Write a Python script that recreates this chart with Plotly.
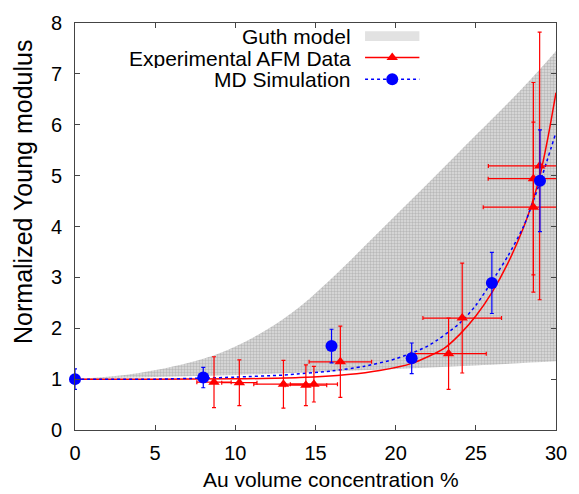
import plotly.graph_objects as go

# ---- data ----
guth_upper_x = [0, 4, 8, 10, 12, 14, 16, 20, 24, 28, 30]
guth_upper_y = [1.0, 1.12, 1.4, 1.64, 1.98, 2.42, 2.98, 4.22, 5.48, 6.75, 7.45]
guth_lower_x = [0, 5, 10, 15, 20, 25, 30]
guth_lower_y = [1.0, 1.04, 1.08, 1.14, 1.2, 1.27, 1.35]

afm_x = [8.67, 10.25, 13.0, 14.4, 14.9, 16.55, 23.3, 24.15, 28.59, 28.59, 28.98]
afm_y = [0.94, 0.93, 0.90, 0.88, 0.90, 1.34, 1.50, 2.20, 4.38, 4.94, 5.19]
afm_yerr = [0.5, 0.45, 0.47, 0.4, 0.35, 0.7, 0.7, 1.08, 1.67, 1.89, 2.63]
afm_xerr = [1.07, 1.1, 1.85, 1.3, 1.47, 1.95, 2.35, 2.45, 3.13, 2.82, 3.2]

md_x = [0, 8.0, 16.0, 21.0, 26.0, 29.0]
md_y = [1.0, 1.03, 1.65, 1.41, 2.89, 4.9]
md_yerr = [0.2, 0.2, 0.33, 0.3, 0.6, 1.0]

afm_fit_x = [0, 5, 10, 14, 17, 19, 21, 23, 24, 25, 26, 27, 28, 28.5, 29, 29.5, 30]
afm_fit_y = [1.0, 1.0, 1.005, 1.03, 1.09, 1.17, 1.31, 1.6, 1.88, 2.24, 2.7, 3.28, 4.0, 4.45, 5.0, 5.75, 6.63]

md_fit_x = [0, 5, 8, 10, 13, 16, 18, 20, 22, 24, 25, 26, 27, 28, 29, 30]
md_fit_y = [1.0, 1.0, 1.02, 1.04, 1.08, 1.16, 1.25, 1.4, 1.65, 2.1, 2.45, 2.92, 3.42, 4.02, 4.87, 5.85]

x_ticks = [0, 5, 10, 15, 20, 25, 30]
y_ticks = [0, 1, 2, 3, 4, 5, 6, 7, 8]

legend_labels = ["Guth model", "Experimental AFM Data", "MD Simulation"]
x_title = "Au volume concentration %"
y_title = "Normalized Young modulus"

RED = "#ff0000"
BLUE = "#0000ff"
FONT = "Liberation Sans, Arial, sans-serif"

fig = go.Figure()

# Guth band: lower edge (invisible) then upper edge filled down to it
fig.add_trace(go.Scatter(
    x=guth_lower_x, y=guth_lower_y, mode="lines",
    line=dict(width=0, color="rgba(0,0,0,0)", shape="spline"),
    showlegend=False, hoverinfo="skip"))
fig.add_trace(go.Scatter(
    x=guth_upper_x, y=guth_upper_y, mode="lines", fill="tonexty",
    line=dict(width=0, color="rgba(0,0,0,0)", shape="spline", smoothing=1.0),
    fillcolor="rgba(0,0,0,0)",
    fillpattern=dict(shape=".", fgcolor="#939393", bgcolor="#dedede", size=3, solidity=0.5),
    showlegend=False, hoverinfo="skip"))

# fit curves
fig.add_trace(go.Scatter(x=afm_fit_x, y=afm_fit_y, mode="lines",
                         line=dict(color=RED, width=1.5, shape="spline", smoothing=0.7),
                         showlegend=False))
fig.add_trace(go.Scatter(x=md_fit_x, y=md_fit_y, mode="lines",
                         line=dict(color=BLUE, width=1.5, dash="dot", shape="spline", smoothing=0.7),
                         showlegend=False))

# data points
fig.add_trace(go.Scatter(
    x=afm_x, y=afm_y, mode="markers",
    marker=dict(symbol="triangle-up", size=10, color=RED),
    error_y=dict(type="data", array=afm_yerr, color=RED, thickness=1.2, width=2),
    error_x=dict(type="data", array=afm_xerr, color=RED, thickness=1.2, width=2),
    showlegend=False))
fig.add_trace(go.Scatter(
    x=md_x, y=md_y, mode="markers", cliponaxis=False,
    marker=dict(symbol="circle", size=12, color=BLUE),
    error_y=dict(type="data", array=md_yerr, color=BLUE, thickness=1.2, width=2),
    showlegend=False))

# ---- custom legend (gnuplot style: text then sample on the right) ----
row_y = [0.968, 0.915, 0.862]
text_x = 0.577
sw_x0, sw_x1 = 0.603, 0.716
sw_xc = (sw_x0 + sw_x1) / 2
for lab, yy in zip(legend_labels, row_y):
    fig.add_annotation(x=text_x, y=yy, xref="paper", yref="paper", text=lab,
                       showarrow=False, xanchor="right", yanchor="middle", height=20,
                       font=dict(family=FONT, size=21, color="black"))
fig.add_shape(type="rect", xref="paper", yref="paper", x0=sw_x0, x1=sw_x1,
              y0=row_y[0] - 0.012, y1=row_y[0] + 0.012,
              fillcolor="#e2e2e2", line=dict(width=0), layer="above")
fig.add_shape(type="line", xref="paper", yref="paper", x0=sw_x0, x1=sw_x1,
              y0=row_y[1], y1=row_y[1], line=dict(color=RED, width=1.5), layer="above")
fig.add_shape(type="line", xref="paper", yref="paper", x0=sw_x0, x1=sw_x1,
              y0=row_y[2], y1=row_y[2], line=dict(color=BLUE, width=1.5, dash="dot"), layer="above")
fig.add_trace(go.Scatter(x=[sw_xc], y=[row_y[1]], xaxis="x2", yaxis="y2", mode="markers",
                         marker=dict(symbol="triangle-up", size=10, color=RED), showlegend=False))
fig.add_trace(go.Scatter(x=[sw_xc], y=[row_y[2]], xaxis="x2", yaxis="y2", mode="markers",
                         marker=dict(symbol="circle", size=12, color=BLUE), showlegend=False))

# axis titles
fig.add_annotation(x=0.532, y=-0.122, xref="paper", yref="paper", text=x_title,
                   showarrow=False, xanchor="center", yanchor="middle",
                   font=dict(family=FONT, size=21, color="black"))
fig.add_annotation(x=-0.108, y=0.585, xref="paper", yref="paper", text=y_title,
                   showarrow=False, xanchor="center", yanchor="middle", textangle=-90,
                   font=dict(family=FONT, size=25, color="black"))

axis_common = dict(showgrid=False, zeroline=False, showline=True, linecolor="#444",
                   linewidth=1, mirror="ticks", ticks="inside", ticklen=5, tickcolor="#444",
                   tickfont=dict(family=FONT, size=20, color="black"))

fig.update_layout(
    width=579, height=494,
    margin=dict(l=75, r=15, t=20, b=64),
    paper_bgcolor="white", plot_bgcolor="white",
    showlegend=False,
    xaxis=dict(range=[0, 30], tickvals=x_ticks, ticklabelstandoff=5, **axis_common),
    yaxis=dict(range=[0, 8], tickvals=y_ticks, ticklabelstandoff=8, **axis_common),
    xaxis2=dict(range=[0, 1], overlaying="x", visible=False),
    yaxis2=dict(range=[0, 1], overlaying="y", visible=False),
)

fig.write_html("out.html")
